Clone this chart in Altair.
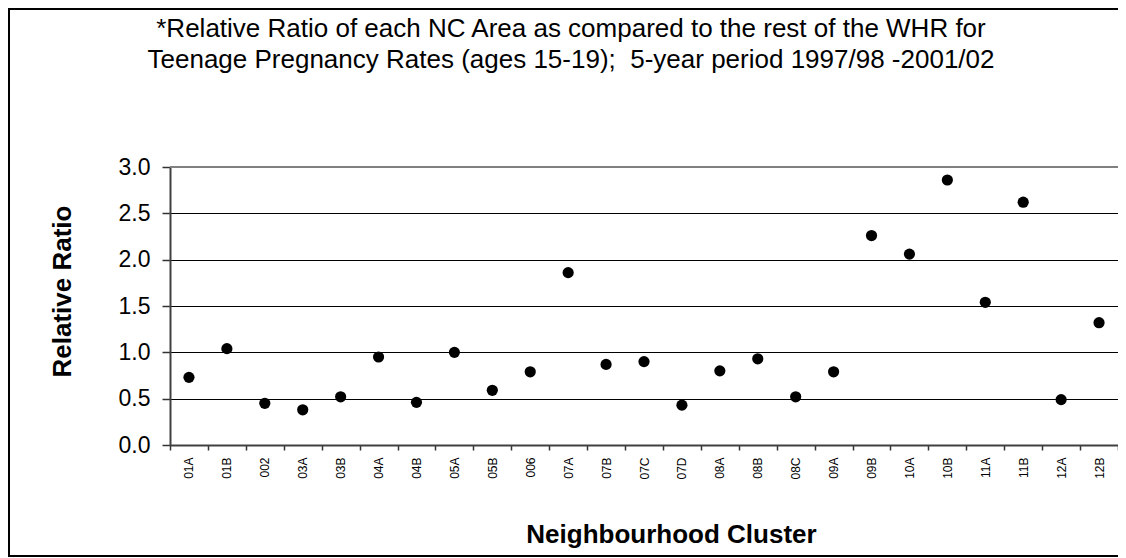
import altair as alt
import pandas as pd

clusters = ["01A", "01B", "002", "03A", "03B", "04A", "04B", "05A", "05B", "006",
            "07A", "07B", "07C", "07D", "08A", "08B", "08C", "09A", "09B", "10A",
            "10B", "11A", "11B", "12A", "12B"]
ratios = [0.73, 1.04, 0.45, 0.38, 0.52, 0.95, 0.46, 1.00, 0.59, 0.79,
          1.86, 0.87, 0.90, 0.43, 0.80, 0.93, 0.52, 0.79, 2.26, 2.06,
          2.86, 1.54, 2.62, 0.49, 1.32]
y_ticks = [0.0, 0.5, 1.0, 1.5, 2.0, 2.5, 3.0]
title_lines = ["*Relative Ratio of each NC Area as compared to the rest of the WHR for",
               "Teenage Pregnancy Rates (ages 15-19);\u00a0 5-year period 1997/98 -2001/02"]
x_title = "Neighbourhood Cluster"
y_title = "Relative Ratio"

FONT = "Liberation Sans"
W, H = 948, 278
PAD_B = 112

df = pd.DataFrame({"cluster": clusters, "ratio": ratios})
one = pd.DataFrame({"k": [0]})

points = alt.Chart(df).mark_point(filled=True, color="black", size=125, opacity=1).encode(
    x=alt.X("cluster:N", sort=clusters,
            scale=alt.Scale(type="band", paddingInner=0, paddingOuter=0),
            axis=alt.Axis(title=x_title, labelAngle=-90, labelAlign="right", labelBaseline="middle",
                          labelFontSize=12, labelFont=FONT, labelColor="black", labelPadding=7,
                          tickBand="extent", tickSize=5, tickColor="#333333", tickWidth=1.5,
                          domainColor="#404040", domainWidth=2, grid=False,
                          titleFont=FONT, titleFontSize=26, titleFontWeight="bold", titleColor="black",
                          titleX=501, titleY=97, titleBaseline="alphabetic", titleAlign="center")),
    y=alt.Y("ratio:Q", scale=alt.Scale(domain=[0, 3], nice=False),
            axis=alt.Axis(title=y_title, values=y_ticks, format=".1f",
                          labelFontSize=23, labelFont=FONT, labelColor="black", labelPadding=12,
                          tickSize=8, tickColor="#333333", tickWidth=1.5,
                          domainColor="#404040", domainWidth=2,
                          grid=True, gridColor="black", gridWidth=1,
                          titleFont=FONT, titleFontSize=26, titleFontWeight="bold", titleColor="black",
                          titleX=-108, titleY=124, titleAngle=270, titleAlign="center",
                          titleBaseline="middle")),
)

title_text = alt.Chart(one).mark_text(
    text=title_lines, font=FONT, fontSize=26, color="black", align="center",
    baseline="alphabetic", lineHeight=31,
).encode(x=alt.value(401), y=alt.value(-130))

top_grid = alt.Chart(one).mark_rule(color="#808080", strokeWidth=2).encode(
    x=alt.value(0), x2=alt.value(W), y=alt.value(0))
left_border = alt.Chart(one).mark_rule(color="black", strokeWidth=2).encode(
    x=alt.value(-161), y=alt.value(-158), y2=alt.value(H + PAD_B - 1))
top_border = alt.Chart(one).mark_rule(color="black", strokeWidth=2).encode(
    x=alt.value(-162), x2=alt.value(W), y=alt.value(-158))
bottom_border = alt.Chart(one).mark_rule(color="black", strokeWidth=2).encode(
    x=alt.value(-162), x2=alt.value(W), y=alt.value(H + PAD_B - 1))

chart = alt.layer(top_grid, points, title_text, left_border, top_border, bottom_border).properties(
    width=W, height=H,
    autosize=alt.AutoSizeParams(type="none"),
    padding={"left": 162, "top": 159, "right": 0, "bottom": PAD_B},
).configure_view(stroke=None).configure(background="white")

chart.save("out.html", embed_options={"renderer": "svg", "actions": False})
